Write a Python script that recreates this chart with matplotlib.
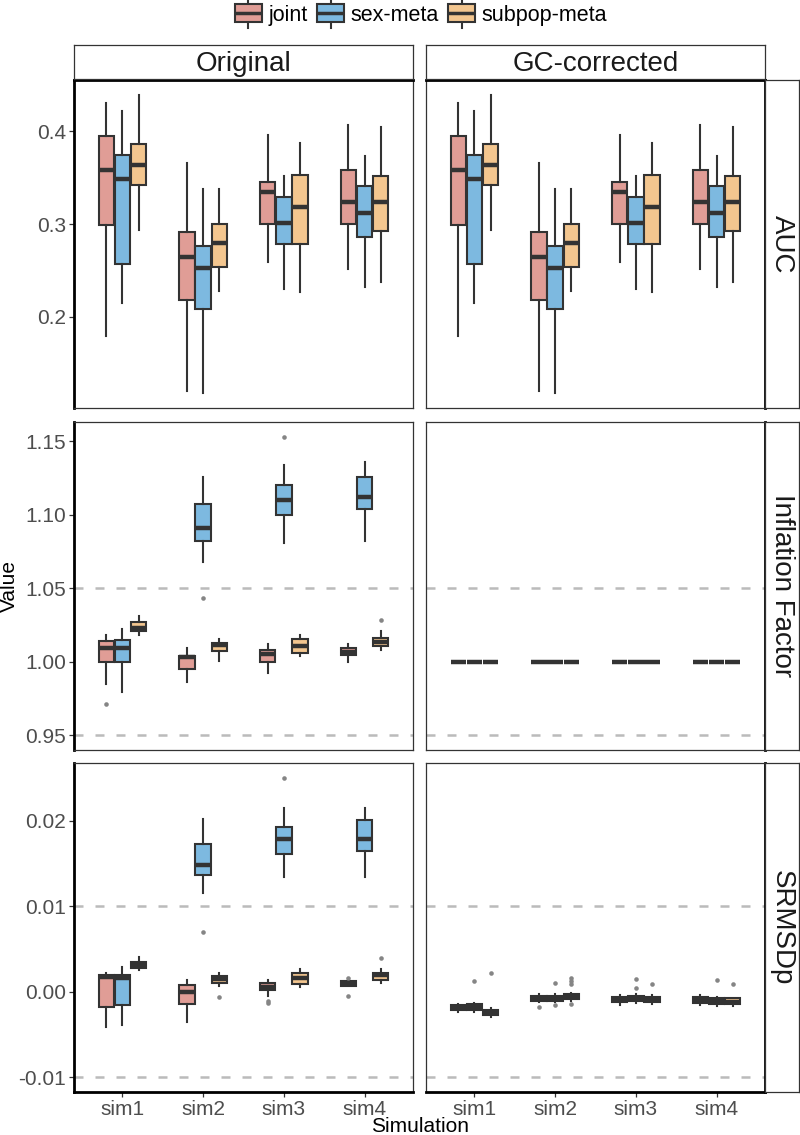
import matplotlib
matplotlib.use('Agg')
import matplotlib.pyplot as plt
from matplotlib.legend_handler import HandlerBase
from matplotlib.lines import Line2D
from matplotlib.patches import Patch, Rectangle

plt.rcParams['font.family'] = ['Liberation Sans', 'DejaVu Sans']

# ── data: five-number summaries [whislo, q1, med, q3, whishi] per sim ─────────
sims    = ['sim1', 'sim2', 'sim3', 'sim4']
methods = ['joint', 'sex-meta', 'subpop-meta']
columns = ['Original', 'GC-corrected']
metrics = ['AUC', 'Inflation Factor', 'SRMSDp']

auc_joint = [[0.179, 0.299, 0.358, 0.395, 0.430],
             [0.120, 0.218, 0.264, 0.291, 0.366],
             [0.259, 0.300, 0.334, 0.345, 0.396],
             [0.252, 0.300, 0.324, 0.358, 0.407]]
auc_sex = [[0.215, 0.257, 0.349, 0.374, 0.422],
           [0.118, 0.209, 0.253, 0.276, 0.338],
           [0.230, 0.279, 0.301, 0.329, 0.352],
           [0.232, 0.286, 0.312, 0.341, 0.373]]
auc_subpop = [[0.294, 0.342, 0.364, 0.386, 0.439],
              [0.228, 0.254, 0.280, 0.300, 0.338],
              [0.227, 0.279, 0.318, 0.353, 0.387],
              [0.238, 0.293, 0.324, 0.352, 0.404]]

infl_joint = [[0.985, 1.000, 1.009, 1.014, 1.018],
              [0.986, 0.995, 1.003, 1.004, 1.009],
              [0.992, 1.000, 1.005, 1.008, 1.012],
              [1.000, 1.0045, 1.0065, 1.009, 1.012]]
infl_joint_out = [[0.971], [], [], []]
infl_sex = [[0.979, 1.000, 1.009, 1.015, 1.022],
            [1.068, 1.082, 1.091, 1.107, 1.126],
            [1.081, 1.100, 1.110, 1.120, 1.134],
            [1.082, 1.104, 1.112, 1.126, 1.136]]
infl_sex_out = [[], [1.043], [1.153], []]
infl_subpop = [[1.018, 1.021, 1.023, 1.027, 1.031],
               [1.0005, 1.007, 1.011, 1.013, 1.0155],
               [1.004, 1.006, 1.0105, 1.0155, 1.018],
               [1.008, 1.0105, 1.0135, 1.016, 1.021]]
infl_subpop_out = [[], [], [], [1.0286]]

gc_infl_joint = [[1.0, 1.0, 1.0, 1.0, 1.0], [1.0, 1.0, 1.0, 1.0, 1.0],
                 [1.0, 1.0, 1.0, 1.0, 1.0], [1.0, 1.0, 1.0, 1.0, 1.0]]
gc_infl_sex = [[1.0, 1.0, 1.0, 1.0, 1.0], [1.0, 1.0, 1.0, 1.0, 1.0],
               [1.0, 1.0, 1.0, 1.0, 1.0], [1.0, 1.0, 1.0, 1.0, 1.0]]
gc_infl_subpop = [[1.0, 1.0, 1.0, 1.0, 1.0], [1.0, 1.0, 1.0, 1.0, 1.0],
                  [1.0, 1.0, 1.0, 1.0, 1.0], [1.0, 1.0, 1.0, 1.0, 1.0]]

srm_joint = [[-0.0041, -0.0018, 0.0017, 0.0019, 0.0022],
             [-0.0035, -0.0014, 0.0000, 0.0008, 0.0013],
             [-0.0005, 0.0002, 0.0005, 0.0010, 0.0014],
             [0.0006, 0.0007, 0.0010, 0.0012, 0.0015]]
srm_joint_out = [[], [], [-0.0011, -0.0013], [0.0016, -0.0005]]
srm_sex = [[-0.0039, -0.0016, 0.0016, 0.0020, 0.0029],
           [0.0115, 0.0136, 0.0148, 0.0173, 0.0202],
           [0.0134, 0.0161, 0.0178, 0.0193, 0.0215],
           [0.0134, 0.0165, 0.0179, 0.0201, 0.0215]]
srm_sex_out = [[], [0.0070], [0.0250], []]
srm_subpop = [[0.0025, 0.0028, 0.0031, 0.0035, 0.0041],
              [0.0006, 0.0010, 0.0015, 0.0018, 0.0022],
              [0.0005, 0.0009, 0.0016, 0.0022, 0.0026],
              [0.0010, 0.0014, 0.0019, 0.0022, 0.0027]]
srm_subpop_out = [[], [-0.0006], [], [0.0039]]

gc_srm_joint = [[-0.0024, -0.0022, -0.0019, -0.00155, -0.0014],
                [-0.0012, -0.00105, -0.0008, -0.00047, -0.0003],
                [-0.0016, -0.00117, -0.0009, -0.00058, -0.0004],
                [-0.0016, -0.00136, -0.0010, -0.00066, -0.0004]]
gc_srm_joint_out = [[], [-0.00175], [], []]
gc_srm_sex = [[-0.0024, -0.0021, -0.0018, -0.0015, -0.0013],
              [-0.0012, -0.00105, -0.0008, -0.0005, -0.0003],
              [-0.0013, -0.0011, -0.0008, -0.00047, -0.0003],
              [-0.0017, -0.00144, -0.0011, -0.00078, -0.0006]]
gc_srm_sex_out = [[0.0012], [0.0010, -0.0016], [0.0015, 0.0004], [0.0014]]
gc_srm_subpop = [[-0.0030, -0.0027, -0.0024, -0.0021, -0.0019],
                 [-0.0011, -0.00085, -0.0006, -0.0003, -0.0002],
                 [-0.0014, -0.00117, -0.0009, -0.00058, -0.0004],
                 [-0.0017, -0.0015, -0.0012, -0.0008, -0.0007]]
gc_srm_subpop_out = [[0.0022], [0.0016, 0.0012, 0.0009, -0.0014], [0.0009], [0.0009]]

infl_ref = [0.95, 1.05]
srm_ref  = [-0.01, 0.01]

yticks = {'AUC': [0.2, 0.3, 0.4],
          'Inflation Factor': [0.95, 1.00, 1.05, 1.10, 1.15],
          'SRMSDp': [-0.01, 0.00, 0.01, 0.02]}
ytick_fmt = {'AUC': '{:.1f}', 'Inflation Factor': '{:.2f}', 'SRMSDp': '{:.2f}'}

none4 = [[], [], [], []]
panels = {
    ('AUC', 'Original'):         [(auc_joint, none4), (auc_sex, none4), (auc_subpop, none4)],
    ('AUC', 'GC-corrected'):     [(auc_joint, none4), (auc_sex, none4), (auc_subpop, none4)],
    ('Inflation Factor', 'Original'):
        [(infl_joint, infl_joint_out), (infl_sex, infl_sex_out), (infl_subpop, infl_subpop_out)],
    ('Inflation Factor', 'GC-corrected'):
        [(gc_infl_joint, none4), (gc_infl_sex, none4), (gc_infl_subpop, none4)],
    ('SRMSDp', 'Original'):
        [(srm_joint, srm_joint_out), (srm_sex, srm_sex_out), (srm_subpop, srm_subpop_out)],
    ('SRMSDp', 'GC-corrected'):
        [(gc_srm_joint, gc_srm_joint_out), (gc_srm_sex, gc_srm_sex_out),
         (gc_srm_subpop, gc_srm_subpop_out)],
}
refs = {'AUC': [], 'Inflation Factor': infl_ref, 'SRMSDp': srm_ref}

colors  = ['#E09D96', '#7DB9E0', '#F3C68F']
offsets = [-0.2, 0.0, 0.2]
DARK = '#333333'

# ── layout in pixels ─────────────────────────────────────────────────────────
W, H = 800, 1135
fig = plt.figure(figsize=(W / 100, H / 100), dpi=100)
col_x = [(74, 413), (426, 765)]
row_y = [(80, 408), (422, 750), (763, 1092)]


def px_axes(x0, x1, y0, y1):
    return fig.add_axes([x0 / W, 1 - y1 / H, (x1 - x0) / W, (y1 - y0) / H])


def row_limits(metric):
    vals = list(refs[metric])
    for col in columns:
        for summ, outs in panels[(metric, col)]:
            for s, o in zip(summ, outs):
                vals += [s[0], s[4]] + o
    lo, hi = min(vals), max(vals)
    pad = (hi - lo) * 0.05
    return lo - pad, hi + pad


for r, metric in enumerate(metrics):
    ylim = row_limits(metric)
    for c, col in enumerate(columns):
        ax = px_axes(col_x[c][0], col_x[c][1], *row_y[r])
        for ref in refs[metric]:
            ax.axhline(ref, color='#BBBBBB', lw=1.8, ls=(0, (3.6, 4.8)), zorder=0)
        for m, (summ, outs) in enumerate(panels[(metric, col)]):
            stats = [dict(whislo=s[0], q1=s[1], med=s[2], q3=s[3], whishi=s[4], fliers=o)
                     for s, o in zip(summ, outs)]
            ax.bxp(stats, positions=[i + 1 + offsets[m] for i in range(len(sims))],
                   widths=0.19, patch_artist=True, showcaps=False,
                   boxprops=dict(facecolor=colors[m], edgecolor=DARK, linewidth=1.5),
                   medianprops=dict(color=DARK, linewidth=3.2, solid_capstyle='butt'),
                   whiskerprops=dict(color=DARK, linewidth=1.5),
                   flierprops=dict(marker='o', markersize=3.3, markerfacecolor='#858585',
                                   markeredgecolor='none'),
                   manage_ticks=False)
        ax.set_xlim(0.4, 4.6)
        ax.set_ylim(*ylim)
        ax.set_xticks(range(1, len(sims) + 1))
        ax.set_yticks(yticks[metric])
        ax.tick_params(colors=DARK, labelcolor='#4D4D4D', labelsize=15, length=3.5,
                       width=0.9, pad=2)
        if r == len(metrics) - 1:
            ax.set_xticklabels(sims)
        else:
            ax.tick_params(axis='x', length=0, labelbottom=False)
        if c == 0:
            ax.set_yticklabels([ytick_fmt[metric].format(v) for v in yticks[metric]])
        else:
            ax.tick_params(axis='y', length=0, labelleft=False)
        for side, sp in ax.spines.items():
            sp.set_color(DARK)
            sp.set_linewidth(0.9)
        if c == 0:
            ax.spines['left'].set(color='black', linewidth=2)
        else:
            ax.spines['right'].set(color='black', linewidth=2)
        if r == 0:
            ax.spines['top'].set(color='black', linewidth=2)
        if r == len(metrics) - 1:
            ax.spines['bottom'].set(color='black', linewidth=2)

        # top strips
        if r == 0:
            sax = px_axes(col_x[c][0], col_x[c][1], 45, 79)
            sax.set_xticks([]); sax.set_yticks([])
            for sp in sax.spines.values():
                sp.set(color=DARK, linewidth=0.9)
            sax.text(0.5, 0.45, col, ha='center', va='center', fontsize=20,
                     color='#1A1A1A', transform=sax.transAxes)

    # right strips
    sax = px_axes(765, 799, *row_y[r])
    sax.set_xticks([]); sax.set_yticks([])
    for sp in sax.spines.values():
        sp.set(color=DARK, linewidth=0.9)
    sax.text(0.5, 0.5, metric, ha='center', va='center', fontsize=20, rotation=-90,
             color='#1A1A1A', transform=sax.transAxes)

fig.text(9 / W, 1 - 586 / H, 'Value', rotation=90, ha='center', va='center', fontsize=15)
fig.text(420 / W, 1 - 1127 / H, 'Simulation', ha='center', va='center', fontsize=15)


# ── legend with boxplot-style keys ───────────────────────────────────────────
class BoxKey(HandlerBase):
    def create_artists(self, legend, orig_handle, xdescent, ydescent, width, height,
                       fontsize, trans):
        x0, y0 = -xdescent, -ydescent
        box = Rectangle((x0, y0), width, height, facecolor=orig_handle.get_facecolor(),
                        edgecolor=DARK, linewidth=1.5, transform=trans)
        med = Line2D([x0, x0 + width], [y0 + height / 2] * 2, color=DARK, lw=2.5,
                     solid_capstyle='butt', transform=trans)
        wt = Line2D([x0 + width / 2] * 2, [y0 + height, y0 + height * 1.3], color=DARK,
                    lw=1.5, transform=trans)
        wb = Line2D([x0 + width / 2] * 2, [y0, y0 - height * 0.3], color=DARK,
                    lw=1.5, transform=trans)
        return [wt, wb, box, med]


handles = [Patch(facecolor=c) for c in colors]
fig.legend(handles, methods, loc='center', bbox_to_anchor=(421 / W, 1 - 15 / H), ncol=3,
           frameon=False, fontsize=15.5, handler_map={Patch: BoxKey()},
           handlelength=1.25, handleheight=0.9, handletextpad=0.3, columnspacing=0.45)

fig.savefig('out.png', dpi=100, facecolor='white')
